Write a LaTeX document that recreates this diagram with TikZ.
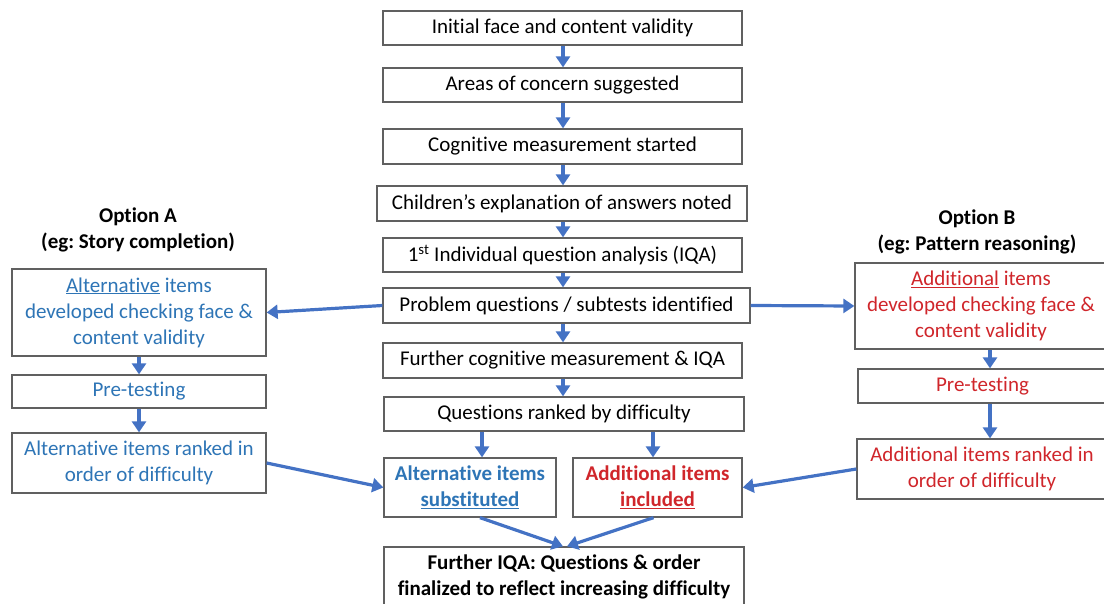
\documentclass[tikz,border=0pt]{standalone}
\usepackage{fontspec}
\setmainfont{Carlito}[Ligatures=CommonOff]
\frenchspacing
\usetikzlibrary{arrows.meta}
\definecolor{flowblue}{HTML}{4472C4}
\definecolor{txtblue}{HTML}{2E75B6}
\definecolor{txtred}{HTML}{D0262B}
\definecolor{edge}{HTML}{606060}
\tikzset{
  box/.style={draw=edge, line width=1.3pt, fill=white, inner sep=0pt, align=center,
    font=\fontsize{21}{26}\selectfont},
  arr/.style={draw=flowblue, line width=3.2pt,
    -{Triangle[length=11pt,width=14pt]}},
  title/.style={font=\fontsize{21}{26}\selectfont\bfseries, align=center, inner sep=0pt}
}
\begin{document}
\begin{tikzpicture}[x=1pt,y=-1pt]
\useasboundingbox (0,0) rectangle (1104,604);

% central column
\node[box, minimum width=359pt, minimum height=34pt] (init) at (562.5,28) {Initial face and content validity};
\node[box, minimum width=359pt, minimum height=34pt] (areas) at (562.5,85) {Areas of concern suggested};
\node[box, minimum width=359pt, minimum height=35pt] (cogn) at (562.5,146.5) {Cognitive measurement started};
\node[box, minimum width=370pt, minimum height=35pt] (child) at (562,203.5) {Children’s explanation of answers noted};
\node[box, minimum width=359pt, minimum height=34pt] (iqa) at (562.5,255) {1\textsuperscript{st} Individual question analysis (IQA)};
\node[box, minimum width=367pt, minimum height=35pt] (prob) at (566.5,305.5) {Problem questions / subtests identified};
\node[box, minimum width=359pt, minimum height=35pt] (furth) at (562.5,360.5) {Further cognitive measurement \& IQA};
\node[box, minimum width=360pt, minimum height=34pt] (rank) at (564,414) {Questions ranked by difficulty};
\node[box, minimum width=172pt, minimum height=59pt, text=txtblue, font=\fontsize{21}{26}\selectfont\bfseries] (altsub) at (470,487.5) {Alternative items\\\underline{substituted}};
\node[box, minimum width=169pt, minimum height=59pt, text=txtred, font=\fontsize{21}{26}\selectfont\bfseries] (addinc) at (657.5,487.5) {Additional items\\\underline{included}};
\node[box, minimum width=360pt, minimum height=60pt, font=\fontsize{21}{26}\selectfont\bfseries] (final) at (564,577) {Further IQA: Questions \& order\\finalized to reflect increasing difficulty};

% option A
\node[title] (tA) at (138,230) {Option A\\(eg: Story completion)};
\node[box, minimum width=254pt, minimum height=87pt, text=txtblue] (A1) at (139,312.5) {\underline{Alternative} items\\developed checking face \&\\content validity};
\node[box, minimum width=254pt, minimum height=33pt, text=txtblue] (A2) at (139,391.5) {Pre-testing};
\node[box, minimum width=254pt, minimum height=60pt, text=txtblue] (A3) at (139,463) {Alternative items ranked in\\order of difficulty};

% option B
\node[title] (tB) at (977,232) {Option B\\(eg: Pattern reasoning)};
\node[box, minimum width=252pt, minimum height=86pt, text=txtred] (B1) at (981,306) {\underline{Additional} items\\developed checking face \&\\content validity};
\node[box, minimum width=249pt, minimum height=34pt, text=txtred] (B2) at (982.5,386) {Pre-testing};
\node[box, minimum width=250pt, minimum height=60pt, text=txtred] (B3) at (982,469) {Additional items ranked in\\order of difficulty};

% connectors
\coordinate (cx) at (563,0);
\coordinate (bx) at (990,0);
\coordinate (lx) at (482,0);
\coordinate (rx) at (653,0);
\draw[arr] (init.south -| cx) -- (areas.north -| cx);
\draw[arr] (areas.south -| cx) -- (cogn.north -| cx);
\draw[arr] (cogn.south -| cx) -- (child.north -| cx);
\draw[arr] (child.south -| cx) -- (iqa.north -| cx);
\draw[arr] (iqa.south -| cx) -- (prob.north -| cx);
\draw[arr] (prob.south -| cx) -- (furth.north -| cx);
\draw[arr] (furth.south -| cx) -- (rank.north -| cx);
\draw[arr] (rank.south -| lx) -- (altsub.north -| lx);
\draw[arr] (rank.south -| rx) -- (addinc.north -| rx);

\draw[arr] (prob.west) -- (A1.east);
\draw[arr] (prob.east) -- (B1.west);
\draw[arr] (A1.south) -- (A2.north);
\draw[arr] (A2.south) -- (A3.north);
\draw[arr] (B1.south -| bx) -- (B2.north -| bx);
\draw[arr] (B2.south -| bx) -- (B3.north -| bx);
\draw[arr] (A3.east) -- (altsub.west);
\draw[arr] (B3.west) -- (addinc.east);

\coordinate (fl) at ([xshift=-1pt]final.north);
\coordinate (fr) at ([xshift=3pt]final.north);
\draw[arr] ([xshift=10pt]altsub.south) -- (fl);
\draw[arr] ([xshift=-4pt]addinc.south) -- (fr);
\end{tikzpicture}
\end{document}
